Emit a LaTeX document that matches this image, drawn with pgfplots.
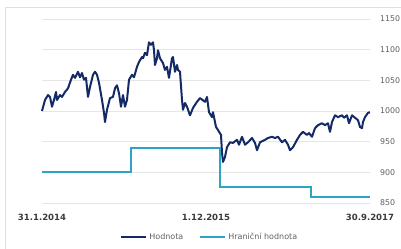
\documentclass[border=0pt]{standalone}
\usepackage{fontspec}
\setmainfont{DejaVu Sans}
\usepackage{pgfplots}
\pgfplotsset{compat=1.18}
\definecolor{hodn}{HTML}{142A66}
\definecolor{hran}{HTML}{2EA3C6}
\definecolor{gridc}{HTML}{E6E6E6}
\definecolor{labc}{HTML}{606060}
\definecolor{xlabc}{HTML}{3A3A3A}
\begin{document}
\begin{tikzpicture}[x=1pt,y=1pt]
\draw[gray!25, line width=0.75pt] (3.75,180.75) rectangle (320,-10);
\begin{axis}[
  at={(31.5pt,33.75pt)}, anchor=south west,
  scale only axis, width=246pt, height=138pt,
  xmin=0, xmax=328, ymin=850, ymax=1150,
  axis line style={draw=none},
  major tick length=0pt,
  ymajorgrids, grid style={gridc, line width=0.6pt},
  ytick={850,900,...,1150},
  yticklabel pos=right,
  /pgf/number format/1000 sep={},
  /pgf/number format/assume math mode=true,
  yticklabel style={anchor=west, inner sep=0pt, xshift=7.3pt, font=\fontsize{5.9}{7}\selectfont, text=labc},
  xtick={0,164,328},
  xticklabels={31.1.2014,1.12.2015,30.9.2017},
  xticklabel style={anchor=north, inner sep=0pt, yshift=-8.5pt, font=\fontsize{6.4}{7}\selectfont\bfseries, text=xlabc},
  legend columns=2,
  legend style={at={(0.512,-0.185)}, anchor=center, draw=none, fill=none,
    font=\fontsize{6}{7}\selectfont, text=labc, inner sep=0pt,
    /tikz/every even column/.append style={column sep=10pt}},
  legend image code/.code={\draw[#1] (0pt,0pt) -- (18.5pt,0pt);},
  clip=false,
]
\addplot[hodn, line width=1.5pt, line join=round] coordinates {
(0,1000) (3,1018) (6,1026) (8,1023) (10,1007) (12,1018) (14,1031) (15,1018)
(18,1026) (20,1023) (23,1031) (26,1037) (29,1051) (31,1059) (33,1054) (36,1064)
(38,1055) (40,1062) (42,1051) (44,1054) (46,1023) (48,1039) (51,1059) (53,1064)
(55,1059) (57,1046) (60,1018) (62,997) (63,982) (65,1002) (68,1021) (71,1023)
(73,1037) (75,1042) (77,1029) (79,1007) (81,1026) (83,1007) (85,1018) (87,1051)
(90,1059) (92,1055) (95,1072) (97,1080) (100,1088) (101,1086) (103,1095) (105,1091)
(107,1112) (109,1108) (111,1112) (112,1099) (113,1075) (115,1086) (116,1099) (118,1086)
(121,1078) (123,1067) (125,1072) (127,1054) (130,1086) (131,1088) (133,1064) (135,1075)
(136,1067) (138,1064) (140,1018) (141,1002) (143,1013) (145,1007) (148,993) (151,1005)
(155,1015) (158,1021) (163,1015) (165,1023) (167,998) (170,990) (171,998) (174,974)
(176,969) (179,961) (180,932) (181,917) (183,925) (185,941) (188,949) (191,948)
(195,953) (197,945) (200,958) (203,945) (206,949) (210,956) (213,948) (215,936)
(218,949) (223,953) (226,956) (230,958) (233,956) (236,958) (240,949) (243,953)
(246,945) (248,936) (251,941) (255,953) (258,961) (261,966) (265,961) (267,964)
(270,958) (273,972) (276,977) (280,980) (283,977) (286,980) (288,966) (290,982)
(293,993) (296,990) (300,993) (302,989) (305,993) (307,980) (310,993) (313,989)
(316,985) (318,974) (320,972) (321,982) (323,990) (326,997) (328,998)
};
\addlegendentry{Hodnota}
\addplot[hran, line width=1.3pt] coordinates {
(0,900) (89,900) (89,940) (178,940) (178,876) (269,876) (269,860) (328,860)
};
\addlegendentry{Hraniční hodnota}
\end{axis}
\pgfresetboundingbox
\path[use as bounding box] (0,0) rectangle (300.75,186);
\end{tikzpicture}
\end{document}
